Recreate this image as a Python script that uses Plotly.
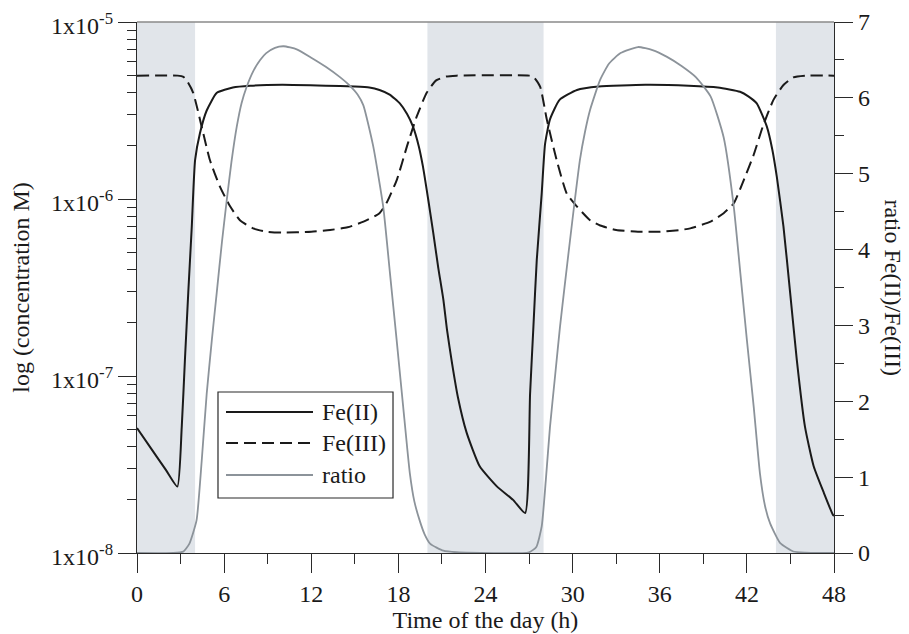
import plotly.graph_objects as go

# ---------------- data ----------------
fe2_t = [0, 1, 2, 2.78, 3.08, 3.3, 3.53, 3.77, 4.0, 4.33, 4.8, 5.5, 6.6, 7.8, 10, 13, 15, 16, 16.7,
         17.4, 18.1, 18.6, 19.0, 19.4, 19.7, 20.05, 20.4, 20.75, 21.1, 21.35, 21.7, 22.1, 22.7, 23.6,
         24.8, 25.9, 26.73, 27.07, 27.3, 27.53, 27.87, 28.1, 28.44, 29.1, 30.3, 31.8, 35, 38, 40,
         41.53, 42.1, 42.68, 43.37, 43.75, 44.06, 44.52, 44.98, 45.44, 46.0, 46.6, 47.3, 47.93, 48]
fe2_log = [-7.294, -7.413, -7.532, -7.625, -7.29, -6.91, -6.53, -6.16, -5.78, -5.63, -5.50, -5.40, -5.37,
           -5.36, -5.355, -5.36, -5.365, -5.37, -5.384, -5.41, -5.46, -5.52, -5.59, -5.70, -5.82, -6.0,
           -6.19, -6.39, -6.57, -6.74, -6.93, -7.12, -7.32, -7.51, -7.625, -7.70, -7.774, -7.10, -6.72,
           -6.345, -5.97, -5.69, -5.55, -5.44, -5.384, -5.365, -5.355, -5.36, -5.37, -5.394, -5.42,
           -5.46, -5.59, -5.72, -5.874, -6.156, -6.53, -6.91, -7.286, -7.51, -7.66, -7.785, -7.79]

fe3_t = [0, 2.8, 3.2, 3.5, 3.87, 4.45, 5.02, 5.71, 6.4, 7.09, 8.0, 8.93, 10, 12, 13.3, 14.5, 15.6, 16.7,
         17.2, 17.9, 18.6, 19.26, 19.95, 20.6, 21.3, 22, 27.0, 27.3, 27.76, 28.22, 28.9, 29.6, 30.27,
         31.2, 31.9, 33, 34.5, 36, 37.4, 38.1, 39.5, 40.4, 41.1, 41.8, 42.47, 43.1, 43.83, 44.52, 45.2,
         46, 48]
fe3_log = [-5.303, -5.303, -5.31, -5.34, -5.40, -5.59, -5.78, -5.93, -6.04, -6.12, -6.166, -6.185, -6.19,
           -6.185, -6.175, -6.16, -6.128, -6.08, -6.02, -5.89, -5.70, -5.535, -5.40, -5.33, -5.308,
           -5.303, -5.303, -5.31, -5.365, -5.55, -5.78, -5.97, -6.04, -6.12, -6.15, -6.175, -6.185,
           -6.185, -6.175, -6.166, -6.128, -6.08, -6.024, -5.89, -5.75, -5.59, -5.44, -5.356, -5.313,
           -5.303, -5.303]

ratio_t = [0, 2.5, 3.2, 3.6, 4.1, 4.45, 4.8, 5.15, 5.49, 5.85, 6.18, 6.5, 6.87, 7.2, 7.56, 8.0, 8.48, 8.9,
           9.5, 10.1, 11, 12, 13, 14, 14.6, 15.2, 15.59, 16.27, 16.96, 17.42, 17.88, 18.33, 18.79, 19.1,
           19.48, 19.8, 20.2, 21.1, 22, 27, 27.5, 27.87, 28.15, 28.44, 28.8, 29.13, 29.47, 29.8, 30.15,
           30.5, 30.85, 31.2, 31.9, 32.5, 33.3, 34.5, 35.5, 36.5, 37.5, 38.5, 39.5, 40.4, 41.1, 41.55, 42.0,
           42.47, 42.9, 43.25, 43.6, 44.3, 45.2, 46, 48]
ratio_v = [0.0, 0.0, 0.02, 0.12, 0.43, 1.2, 2.1, 2.8, 3.43, 4.1, 4.65, 5.15, 5.62, 5.93, 6.15, 6.35, 6.5,
           6.59, 6.66, 6.68, 6.64, 6.53, 6.41, 6.27, 6.17, 6.04, 5.9, 5.36, 4.56, 3.69, 2.81, 1.93, 1.05,
           0.68, 0.42, 0.25, 0.12, 0.03, 0.01, 0.01, 0.08, 0.35, 0.95, 1.66, 2.35, 2.98, 3.55, 4.09, 4.65,
           5.18, 5.55, 5.84, 6.24, 6.45, 6.59, 6.67, 6.63, 6.54, 6.42, 6.27, 6.02, 5.48, 4.56, 3.69, 2.81,
           1.93, 1.05, 0.62, 0.39, 0.13, 0.02, 0.005, 0.0]

night_periods = [(0, 4), (20, 28), (44, 48)]

x_ticks = [0, 6, 12, 18, 24, 30, 36, 42, 48]
x_minor = [3, 9, 15, 21, 27, 33, 39, 45]
y_ticks = [1e-8, 1e-7, 1e-6, 1e-5]
y_ticktext = ["1x10<sup>-8</sup>", "1x10<sup>-7</sup>", "1x10<sup>-6</sup>", "1x10<sup>-5</sup>"]
y2_ticks = [0, 1, 2, 3, 4, 5, 6, 7]

series_names = ["Fe(II)", "Fe(III)", "ratio"]

# ---------------- styling ----------------
FONT = "Liberation Serif, Times New Roman, serif"
FS = 24
BLACK = "#1a1a1a"
GRAY = "#8c939a"
SHADE = "#e1e5ea"
AX = "#2a2a2a"
SM = 0.5

fe2 = [10 ** v for v in fe2_log]
fe3 = [10 ** v for v in fe3_log]
y_minor = [m * 10 ** e for e in (-8, -7, -6) for m in range(2, 10)]

fig = go.Figure()
fig.add_trace(go.Scatter(x=fe2_t, y=fe2, mode="lines", name=series_names[0], showlegend=False,
                         line=dict(color=BLACK, width=2, shape="spline", smoothing=SM)))
fig.add_trace(go.Scatter(x=fe3_t, y=fe3, mode="lines", name=series_names[1], showlegend=False,
                         line=dict(color=BLACK, width=2, dash="12px,6px", shape="spline", smoothing=SM)))
fig.add_trace(go.Scatter(x=ratio_t, y=ratio_v, mode="lines", name=series_names[2], showlegend=False,
                         yaxis="y2",
                         line=dict(color=GRAY, width=1.8, shape="spline", smoothing=SM)))

shapes = []
for a, b in night_periods:
    shapes.append(dict(type="rect", xref="x", yref="paper", x0=a, x1=b, y0=0, y1=1,
                       fillcolor=SHADE, line=dict(width=0), layer="below"))
# top frame line
shapes.append(dict(type="line", xref="paper", yref="paper", x0=0, x1=1, y0=1, y1=1,
                   line=dict(color="#8a8a8a", width=1.3)))

# manual legend (box, samples)
lx0, lx1, ly0, ly1 = 0.1162, 0.3673, 0.1036, 0.3032
shapes.append(dict(type="rect", xref="paper", yref="paper", x0=lx0, x1=lx1, y0=ly0, y1=ly1,
                   fillcolor="white", line=dict(color=AX, width=1.2), layer="above"))
rows = [0.2655, 0.2072, 0.1469]
styles = [dict(color=BLACK, width=2), dict(color=BLACK, width=2, dash="12px,6px"),
          dict(color=GRAY, width=1.8)]
annotations = []
for name, ry, st in zip(series_names, rows, styles):
    shapes.append(dict(type="line", xref="paper", yref="paper", x0=0.1277, x1=0.2525, y0=ry, y1=ry,
                       line=st, layer="above"))
    annotations.append(dict(xref="paper", yref="paper", x=0.2625, y=ry, text=name, showarrow=False,
                            xanchor="left", yanchor="middle", font=dict(family=FONT, size=FS, color=BLACK)))

annotations.append(dict(xref="paper", yref="paper", x=1.0 + (893 - 834) / 697, y=0.5,
                        text="ratio Fe(II)/Fe(III)", textangle=90, showarrow=False,
                        xanchor="center", yanchor="middle", font=dict(family=FONT, size=FS, color=BLACK)))

# the page body has an 8px margin, so the figure is offset by (8, 8) in the window
fig.update_layout(
    width=901, height=626,
    margin=dict(l=129, r=75, t=14, b=81, autoexpand=False),
    plot_bgcolor="white", paper_bgcolor="white",
    font=dict(family=FONT, size=FS, color=BLACK),
    showlegend=False,
    shapes=shapes,
    annotations=annotations,
    xaxis=dict(range=[0, 48], tickmode="array", tickvals=x_ticks, ticks="outside", ticklen=19,
               tickwidth=1.3, tickcolor=AX, showline=True, linecolor=AX, linewidth=1.3,
               showgrid=False, zeroline=False, automargin=False, ticklabeloverflow="allow",
               minor=dict(tickmode="array", tickvals=x_minor, ticks="outside", ticklen=10,
                          tickwidth=1.3, tickcolor=AX, showgrid=False),
               title=dict(text="Time of the day (h)", standoff=0, font=dict(family=FONT, size=FS))),
    yaxis=dict(type="log", range=[-8, -5], tickmode="array", tickvals=y_ticks, ticktext=y_ticktext,
               ticks="outside", ticklen=18, tickwidth=1.3, tickcolor=AX, showline=True, linecolor=AX,
               linewidth=1.3, showgrid=False, zeroline=False, automargin=False,
               ticklabeloverflow="allow", ticklabelshift=4,
               minor=dict(tickmode="array", tickvals=y_minor, ticks="outside", ticklen=9,
                          tickwidth=1.3, tickcolor=AX, showgrid=False),
               title=dict(text="log (concentration M)", standoff=14, font=dict(family=FONT, size=FS))),
    yaxis2=dict(overlaying="y", side="right", range=[0, 7], tickmode="array", tickvals=y2_ticks,
                ticks="outside", ticklen=18, tickwidth=1.3, tickcolor=AX, showline=True, linecolor=AX,
                linewidth=1.3, showgrid=False, zeroline=False, automargin=False,
                ticklabeloverflow="allow",
                minor=dict(dtick=0.5, ticks="outside", ticklen=9, tickwidth=1.3, tickcolor=AX,
                           showgrid=False)),
)

fig.write_html("out.html")
